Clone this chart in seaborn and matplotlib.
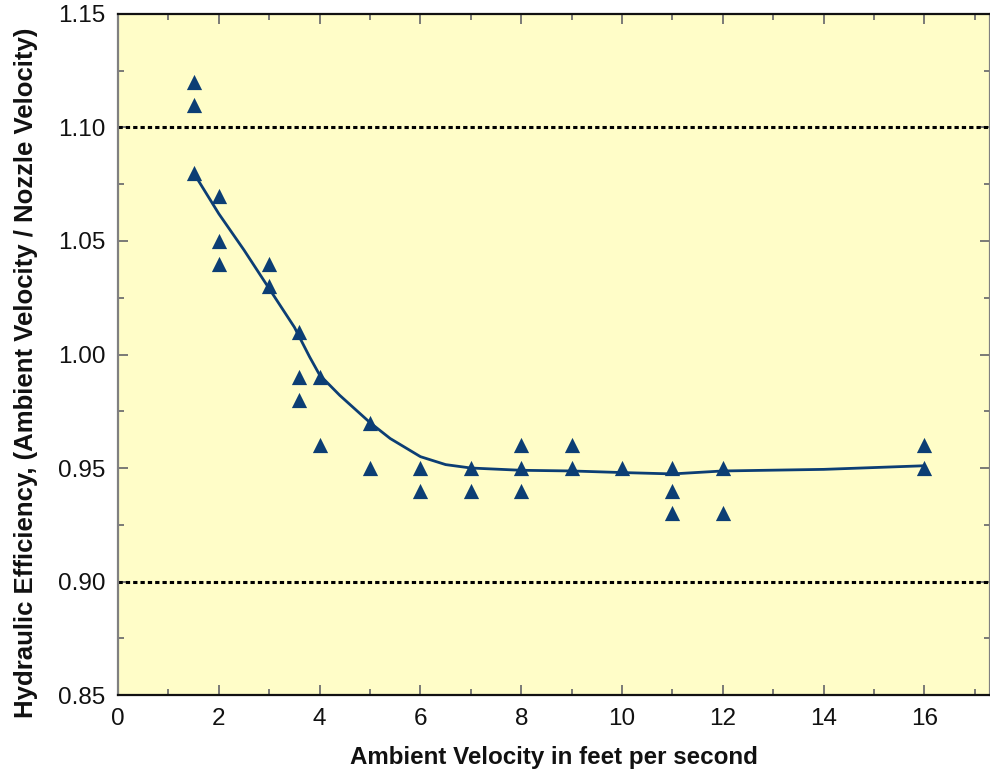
import matplotlib
matplotlib.use("Agg")
import matplotlib.pyplot as plt
from matplotlib.ticker import MultipleLocator, FormatStrFormatter
import seaborn as sns
import pandas as pd

#%% DATA
# measured points (ambient velocity, efficiency)
vel_pts = [1.5, 1.5, 1.5, 2, 2, 2, 3, 3, 3.6, 3.6, 3.6, 4, 4, 5, 5, 6, 6, 7, 7,
           8, 8, 8, 9, 9, 10, 11, 11, 11, 12, 12, 16, 16]
eff_pts = [1.12, 1.11, 1.08, 1.07, 1.05, 1.04, 1.04, 1.03, 1.01, 0.99, 0.98,
           0.99, 0.96, 0.97, 0.95, 0.95, 0.94, 0.95, 0.94, 0.96, 0.95, 0.94,
           0.96, 0.95, 0.95, 0.95, 0.94, 0.93, 0.95, 0.93, 0.96, 0.95]

# fitted curve
vel_fit = [1.5, 2.0, 2.5, 3.0, 3.5, 3.8, 4.0, 4.4, 5.0, 5.4, 6.0, 6.5, 7.0,
           7.5, 8, 9, 10, 11, 12, 14, 16]
eff_fit = [1.080, 1.062, 1.046, 1.029, 1.012, 0.999, 0.991, 0.982, 0.970,
           0.963, 0.955, 0.9515, 0.950, 0.9495, 0.949, 0.9487, 0.948, 0.9474,
           0.9487, 0.9494, 0.951]

ref_lines = [1.10, 0.90]

pts = pd.DataFrame({"vel": vel_pts, "eff": eff_pts})
fit = pd.DataFrame({"vel": vel_fit, "eff": eff_fit})

#%% STYLE
sns.set_style("ticks")
plt.rcParams["font.family"] = ["Liberation Sans", "DejaVu Sans"]
navy = "#0c3e74"

fig = plt.figure(figsize=(9.9, 7.72), dpi=100)
ax = fig.add_axes([0.1192, 0.0997, 0.8808, 0.8822])
ax.set_facecolor("#fffdc8")

# ---------------------------------------------------
# Marks
# ---------------------------------------------------
for yv in ref_lines:
    ax.axhline(yv, color="black", lw=2.2, linestyle=(0, (1.4, 1.0)), zorder=1)

sns.lineplot(data=fit, x="vel", y="eff", ax=ax, color=navy, lw=2.0, zorder=2)
sns.scatterplot(data=pts, x="vel", y="eff", ax=ax, marker="^", s=120,
                color=navy, edgecolor=navy, linewidth=0, zorder=3)

# ---------------------------------------------------
# Axes
# ---------------------------------------------------
ax.set_xlim(0, 17.3)
ax.set_ylim(0.85, 1.15)
ax.xaxis.set_major_locator(MultipleLocator(2))
ax.xaxis.set_minor_locator(MultipleLocator(1))
ax.yaxis.set_major_locator(MultipleLocator(0.05))
ax.yaxis.set_minor_locator(MultipleLocator(0.025))
ax.yaxis.set_major_formatter(FormatStrFormatter("%.2f"))

ax.tick_params(which="both", direction="in", top=True, right=True,
               color="#707070", width=1.3, labelsize=17.5, labelcolor="#111111")
ax.tick_params(which="major", length=7.5, pad=9)
ax.tick_params(which="minor", length=4)

for side in ["top", "bottom"]:
    ax.spines[side].set_color("#111111")
    ax.spines[side].set_linewidth(1.6)
for side in ["left", "right"]:
    ax.spines[side].set_color("#808080")
    ax.spines[side].set_linewidth(1.6)

ax.set_xlabel("Ambient Velocity in feet per second", fontsize=17.4,
              fontweight="bold", labelpad=12, color="#111111")
ax.set_ylabel("Hydraulic Efficiency, (Ambient Velocity / Nozzle Velocity)",
              fontsize=18.5, fontweight="bold", color="#111111")
ax.yaxis.set_label_coords(-0.092, 0.473)

fig.savefig("out.png", dpi=100)
